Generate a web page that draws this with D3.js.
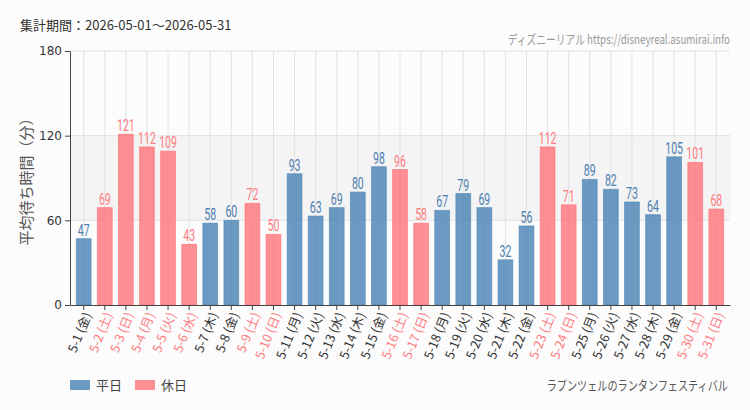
<!DOCTYPE html>
<html>
<head>
<meta charset="utf-8">
<script src="https://cdn.jsdelivr.net/npm/d3@7"></script>
<style>
  body { margin: 0; background: #fcfcfc; }
  svg { display: block; background: #fcfcfc; }
</style>
</head>
<body>
<svg id="chart" width="750" height="410"></svg>
<script>
// data
var dates = ["5-1","5-2","5-3","5-4","5-5","5-6","5-7","5-8","5-9","5-10","5-11","5-12","5-13","5-14","5-15","5-16","5-17","5-18","5-19","5-20","5-21","5-22","5-23","5-24","5-25","5-26","5-27","5-28","5-29","5-30","5-31"];
var weekdays = ["金","土","日","月","火","水","木","金","土","日","月","火","水","木","金","土","日","月","火","水","木","金","土","日","月","火","水","木","金","土","日"];
var waits = [47,69,121,112,109,43,58,60,72,50,93,63,69,80,98,96,58,67,79,69,32,56,112,71,89,82,73,64,105,101,68];
var holidays = [0,1,1,1,1,1,0,0,1,1,0,0,0,0,0,1,1,0,0,0,0,0,1,1,0,0,0,0,0,1,1];
var yTicks = [0, 60, 120, 180];

var data = dates.map((d, i) => ({ date: d, wd: weekdays[i], v: waits[i], hol: holidays[i] }));

var svg = d3.select("#chart");
var mLeft = 70, mRight = 730, mTop = 51, mBottom = 305;

var x = d3.scaleBand().domain(dates).range([mLeft, mRight]).padding(0.3);
var y = d3.scaleLinear().domain([0, 180]).range([mBottom, mTop]);

var blue = "#4682b4", pink = "#ff6b72";
var blueText = "#4a7db0", pinkText = "#ff7b80";

// shaded band 60-120
svg.append("rect")
  .attr("x", mLeft).attr("y", y(120))
  .attr("width", mRight - mLeft).attr("height", y(60) - y(120))
  .attr("fill", "#f4f4f4");

// vertical grid
svg.append("g").selectAll("line").data(dates).enter().append("line")
  .attr("x1", d => x(d) + x.bandwidth() / 2).attr("x2", d => x(d) + x.bandwidth() / 2)
  .attr("y1", mTop).attr("y2", mBottom)
  .attr("stroke", "#e2e2e2");

// horizontal grid
svg.append("g").selectAll("line").data(yTicks.slice(1)).enter().append("line")
  .attr("x1", mLeft).attr("x2", mRight)
  .attr("y1", d => y(d)).attr("y2", d => y(d))
  .attr("stroke", "#e2e2e2");

// bars
svg.append("g").selectAll("rect").data(data).enter().append("rect")
  .attr("x", d => x(d.date))
  .attr("y", d => y(d.v))
  .attr("width", x.bandwidth())
  .attr("height", d => y(0) - y(d.v))
  .attr("fill", d => d.hol ? pink : blue)
  .attr("fill-opacity", d => d.hol ? 0.75 : 0.8)
  .attr("stroke", d => d.hol ? pink : blue)
  .attr("stroke-opacity", 0.6)
  .attr("stroke-width", 1);

// value labels (condensed look)
svg.append("g").selectAll("text").data(data).enter().append("text")
  .attr("transform", d => `translate(${x(d.date) + x.bandwidth() / 2},${y(d.v) - 3}) scale(0.62,1)`)
  .attr("text-anchor", "middle")
  .style("font-family", "Roboto, sans-serif")
  .style("font-size", "17px")
  .style("fill", d => d.hol ? pinkText : blueText)
  .text(d => d.v);

// y axis
var yAxis = svg.append("g")
  .attr("transform", `translate(${mLeft},0)`)
  .call(d3.axisLeft(y).tickValues(yTicks).tickSize(5).tickSizeOuter(0));
yAxis.select(".domain").attr("stroke", "#444");
yAxis.selectAll(".tick line").attr("stroke", "#444");
yAxis.selectAll("text")
  .style("font-family", "'DejaVu Sans', sans-serif")
  .style("font-size", "12px")
  .style("fill", "#333");

// x axis
var xAxis = svg.append("g")
  .attr("transform", `translate(0,${mBottom})`)
  .call(d3.axisBottom(x).tickSize(5).tickSizeOuter(0));
xAxis.select(".domain").attr("stroke", "#444");
xAxis.selectAll(".tick line").attr("stroke", "#444");
xAxis.selectAll("text")
  .text((d, i) => `${d} (${weekdays[i]})`)
  .attr("text-anchor", "end")
  .attr("transform", "translate(4,8) rotate(-68)")
  .attr("dy", "0.35em")
  .attr("y", 0)
  .style("font-family", "'Noto Sans CJK JP', sans-serif")
  .style("font-size", "12.5px")
  .style("fill", (d, i) => holidays[i] ? pinkText : "#333");

// y label
svg.append("text")
  .attr("transform", `translate(32,${(mTop + mBottom) / 2}) rotate(-90)`)
  .attr("text-anchor", "middle")
  .style("font-family", "'Noto Sans CJK JP', sans-serif")
  .style("font-size", "15px")
  .style("fill", "#555")
  .text("平均待ち時間（分）");

// header
svg.append("text")
  .attr("x", 20).attr("y", 30)
  .style("font-family", "'Noto Sans CJK JP', sans-serif")
  .style("font-size", "13px")
  .style("fill", "#333")
  .text("集計期間：2026-05-01～2026-05-31");

svg.append("text")
  .attr("transform", "translate(730,44) scale(0.75,1)")
  .attr("text-anchor", "end")
  .style("font-family", "'Noto Sans CJK JP', sans-serif")
  .style("font-size", "13px")
  .style("fill", "#999")
  .text("ディズニーリアル https://disneyreal.asumirai.info");

// legend
var legendItems = [["平日", blue, 0.8], ["休日", pink, 0.75]];
var legend = svg.append("g").attr("transform", "translate(70,380)");
var li = legend.selectAll("g").data(legendItems).enter().append("g")
  .attr("transform", (d, i) => `translate(${i * 65},0)`);
li.append("rect")
  .attr("width", 20).attr("height", 10)
  .attr("fill", d => d[1]).attr("fill-opacity", d => d[2]);
li.append("text")
  .attr("x", 26).attr("y", 10)
  .style("font-family", "'Noto Sans CJK JP', sans-serif")
  .style("font-size", "13px")
  .style("fill", "#444")
  .text(d => d[0]);

svg.append("text")
  .attr("transform", "translate(728,390) scale(0.78,1)")
  .attr("text-anchor", "end")
  .style("font-family", "'Noto Sans CJK JP', sans-serif")
  .style("font-size", "13px")
  .style("fill", "#555")
  .text("ラプンツェルのランタンフェスティバル");
</script>
</body>
</html>
